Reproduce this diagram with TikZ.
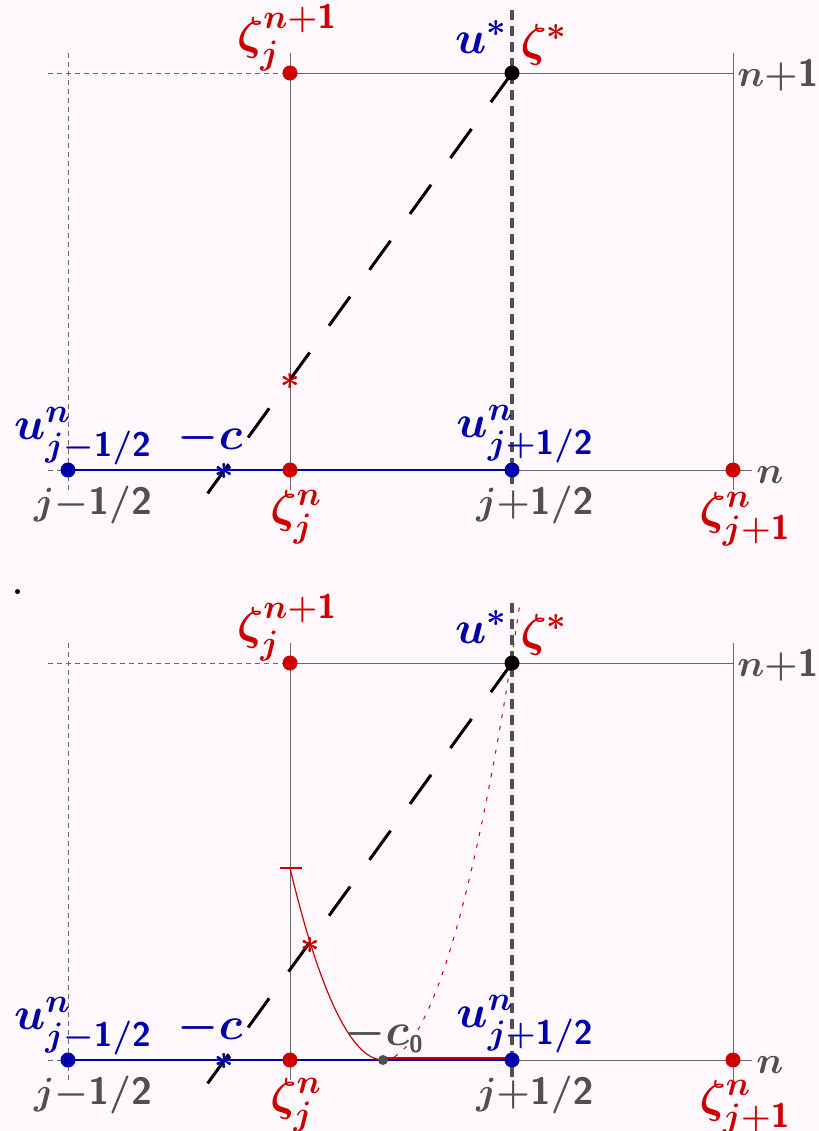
\RequirePackage{fix-cm}
\documentclass[tikz,border=0pt]{standalone}
\usepackage{amsmath}
\usepackage{bm}
\usepackage{xcolor}
\usepackage{tikz}
\usetikzlibrary{positioning,calc,backgrounds}
\definecolor{cellblue}{RGB}{0,0,170}
\definecolor{cellred}{RGB}{204,0,0}
\definecolor{cellgray}{RGB}{80,80,80}
\definecolor{gridgray}{RGB}{105,105,105}
\definecolor{bgpink}{RGB}{255,249,254}
\DeclareMathSizes{23}{23}{17}{12}

\begin{document}
\begin{tikzpicture}[x=0.5pt, y=-0.5pt]
  \tikzstyle{grid} = [draw=gridgray, line width=0.5pt]
  \tikzstyle{gridd} = [grid, dash pattern=on 2.5pt off 2pt]
  \tikzstyle{midline} = [draw=cellgray, line width=1.6pt, dash pattern=on 5pt off 3pt]
  \tikzstyle{charline} = [draw=black, line width=1.5pt, dash pattern=on 18pt off 16.5pt]
  \tikzstyle{bline} = [draw=cellblue, line width=0.8pt]
  \tikzstyle{rline} = [draw=cellred, line width=0.6pt]
  \tikzstyle{rdots} = [draw=cellred, line width=0.5pt, dash pattern=on 2pt off 4pt]
  \tikzstyle{dotnode} = [circle, inner sep=0pt, minimum size=7.5pt]
  \tikzstyle{bdot} = [dotnode, fill=cellblue]
  \tikzstyle{rdot} = [dotnode, fill=cellred]
  \tikzstyle{kdot} = [dotnode, fill=black]
  \tikzstyle{gdot} = [dotnode, fill=cellgray, minimum size=5pt]
  \tikzstyle{ast} = [inner sep=0pt, font=\fontsize{17}{17}\selectfont\boldmath]
  \tikzstyle{lbl} = [inner sep=0pt, font=\fontsize{23}{25}\selectfont\boldmath]
  \tikzstyle{sublbl} = [inner sep=0pt, font=\fontsize{19}{21}\selectfont\boldmath]
  \tikzstyle{rowlbl} = [inner sep=0pt, font=\fontsize{19}{21}\selectfont\boldmath, text=cellgray]

  \useasboundingbox (0,0) rectangle (819,1131);

  % upper panel
  \node[bdot] (a-ul) at (68,470) {};
  \node[rdot] (a-zj) at (290,470) {};
  \node[bdot] (a-ur) at (512,470) {};
  \node[rdot] (a-zjr) at (733,470) {};
  \node[rdot] (a-zjnp) at (290,73) {};
  \node[kdot] (a-us) at (512,73) {};
  \coordinate (a-foot) at (205,497);
  \node[ast, text=cellred] (a-xr) at (290,381) {$\ast$};
  \node[ast, text=cellblue] (a-xb) at (224,471) {$\ast$};

  \node[lbl, text=cellred] (a-zjnp-l) at (287,38) {$\zeta_j^{n{+}\mathsf{1}}$};
  \node[lbl, text=cellblue] (a-us-l) at (481,37) {$u^*$};
  \node[lbl, text=cellred] (a-zs-l) at (544,45) {$\zeta^*$};
  \node[rowlbl, anchor=west] (a-np-l) at (737,76) {$n{+}\mathsf{1}$};
  \node[lbl, text=cellblue] (a-ul-l) at (83,436) {$u^n_{j{-}\mathsf{1/2}}$};
  \node[lbl, text=cellblue] (a-c-l) at (210,438) {$-c$};
  \node[sublbl, text=cellgray] (a-jl-l) at (93,505) {$j{-}\mathsf{1/2}$};
  \node[lbl, text=cellred] (a-zj-l) at (296,517) {$\zeta^n_j$};
  \node[lbl, text=cellblue] (a-ur-l) at (525,434) {$u^n_{j{+}\mathsf{1/2}}$};
  \node[sublbl, text=cellgray] (a-jr-l) at (535,505) {$j{+}\mathsf{1/2}$};
  \node[rowlbl] (a-n-l) at (770,475) {$n$};
  \node[lbl, text=cellred] (a-zjr-l) at (745,519) {$\zeta^n_{j{+}\mathsf{1}}$};

  % lower panel
  \node[lbl, font=\fontsize{30}{30}\selectfont] (b-mark) at (18,592) {.};
  \node[bdot] (b-ul) at (68,1060) {};
  \node[rdot] (b-zj) at (290,1060) {};
  \node[bdot] (b-ur) at (512,1060) {};
  \node[rdot] (b-zjr) at (733,1060) {};
  \node[rdot] (b-zjnp) at (290,663) {};
  \node[kdot] (b-us) at (512,663) {};
  \node[gdot] (b-c0) at (383,1060) {};
  \coordinate (b-foot) at (205,1087);
  \coordinate (b-top) at (290,868);
  \coordinate (b-end) at (520,603);
  \node[ast, text=cellred] (b-xr) at (310,945) {$\ast$};
  \node[ast, text=cellblue] (b-xb) at (224,1061) {$\ast$};

  \node[lbl, text=cellred] (b-zjnp-l) at (287,628) {$\zeta_j^{n{+}\mathsf{1}}$};
  \node[lbl, text=cellblue] (b-us-l) at (481,627) {$u^*$};
  \node[lbl, text=cellred] (b-zs-l) at (544,635) {$\zeta^*$};
  \node[rowlbl, anchor=west] (b-np-l) at (737,666) {$n{+}\mathsf{1}$};
  \node[lbl, text=cellblue] (b-ul-l) at (83,1026) {$u^n_{j{-}\mathsf{1/2}}$};
  \node[lbl, text=cellblue] (b-c-l) at (210,1028) {$-c$};
  \node[lbl, text=cellgray] (b-c0-l) at (384,1034) {$-c_{\scriptscriptstyle\mathsf{0}}$};
  \node[sublbl, text=cellgray] (b-jl-l) at (93,1095) {$j{-}\mathsf{1/2}$};
  \node[lbl, text=cellred] (b-zj-l) at (296,1105) {$\zeta^n_j$};
  \node[lbl, text=cellblue] (b-ur-l) at (525,1024) {$u^n_{j{+}\mathsf{1/2}}$};
  \node[sublbl, text=cellgray] (b-jr-l) at (535,1095) {$j{+}\mathsf{1/2}$};
  \node[rowlbl] (b-n-l) at (770,1065) {$n$};
  \node[lbl, text=cellred] (b-zjr-l) at (745,1107) {$\zeta^n_{j{+}\mathsf{1}}$};

  \begin{scope}[on background layer]
    \fill[bgpink] (0,0) rectangle (819,1131);
    % upper grid
    \draw[gridd] (68,53) -- (68,490);
    \draw[grid] (290,53) -- (290,490);
    \draw[grid] (733,53) -- (733,490);
    \draw[gridd] (48,73) -- (a-zjnp.center);
    \draw[grid] (a-zjnp.center) -- (733,73);
    \draw[gridd] (48,470) -- (a-ul.center);
    \draw[grid] (a-ur.center) -- (752,470);
    \draw[bline] (a-ul.center) -- (a-ur.center);
    \draw[midline] (512,10) -- (512,490);
    \draw[charline] (a-us.center) -- (a-foot);
    % lower grid
    \draw[gridd] (68,643) -- (68,1080);
    \draw[grid] (290,643) -- (290,1080);
    \draw[grid] (733,643) -- (733,1080);
    \draw[gridd] (48,663) -- (b-zjnp.center);
    \draw[grid] (b-zjnp.center) -- (733,663);
    \draw[gridd] (48,1060) -- (b-ul.center);
    \draw[grid] (b-ur.center) -- (752,1060);
    \draw[bline] (b-ul.center) -- (b-ur.center);
    \draw[rline] ([yshift=1pt]b-c0.center) -- ([yshift=1pt]b-ur.center);
    \draw[midline] (512,603) -- (512,1080);
    \draw[rdots] (b-c0.center) parabola (b-end);
    \draw[rline] (b-top) parabola[bend at end] (b-c0.center);
    \draw[rline] ([xshift=-5pt]b-top) -- ([xshift=6pt]b-top);
    \draw[charline] (b-us.center) -- (b-foot);
  \end{scope}
\end{tikzpicture}
\end{document}
